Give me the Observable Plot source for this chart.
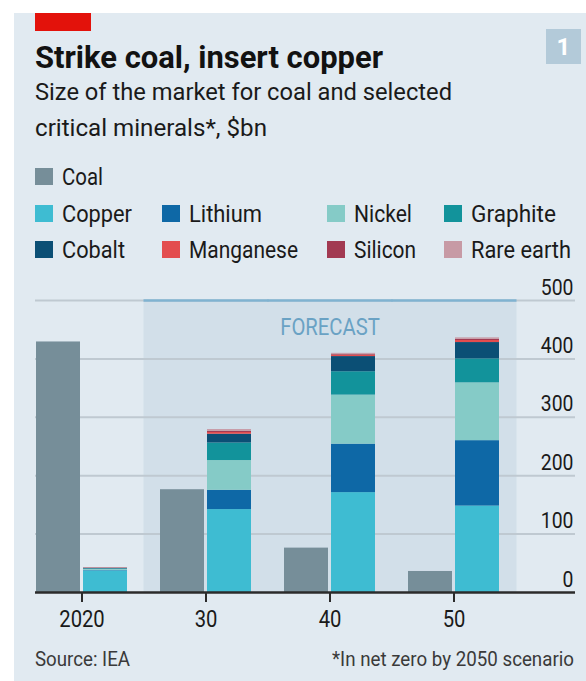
<!DOCTYPE html>
<html><head><meta charset="utf-8">
<script src="https://cdn.jsdelivr.net/npm/d3@7"></script>
<script src="https://cdn.jsdelivr.net/npm/@observablehq/plot@0.6"></script>
<style>
html,body{margin:0;padding:0;background:#fff;}
#root{position:relative;width:586px;height:681px;overflow:hidden;font-family:Roboto,"Open Sans",sans-serif;color:#121212;}
#panel{position:absolute;left:14px;top:13px;width:572px;height:668px;background:#e1eaf1;}
.abs{position:absolute;white-space:nowrap;line-height:1;transform-origin:0 0;}
#chart{position:absolute;left:13px;top:280px;}
</style></head><body>
<div id="root"><div id="panel"></div></div>
<script>
// ---- data ----
const years = ["2020", "2030", "2040", "2050"];
const xTickLabels = ["2020", "30", "40", "50"];
const coal = [429, 176, 76, 36];
const minerals = ["Copper", "Lithium", "Nickel", "Graphite", "Cobalt", "Manganese", "Silicon", "Rare earth"];
const copper    = [37, 142, 171, 148];
const lithium   = [1, 33, 83, 112];
const nickel    = [1.5, 51, 84, 99];
const graphite  = [1, 30, 40, 41];
const cobalt    = [1, 15, 26, 28];
const manganese = [0.5, 3, 2.5, 3.5];
const silicon   = [0.3, 2, 1.5, 2];
const rareEarth = [0.3, 3, 1.5, 2.5];
const forecastYears = ["2030", "2040", "2050"];
const yTicks = [0, 100, 200, 300, 400, 500];

// ---- styles ----
const coalColor = "#768e99";
const mineralColors = ["#3ebcd2", "#0e68a6", "#85cbc7", "#12939b", "#0b4f75", "#e34d4f", "#a23a52", "#c79aa5"];

const mineralValues = [copper, lithium, nickel, graphite, cobalt, manganese, silicon, rareEarth];
const mineralRows = years.flatMap((year, i) => minerals.map((m, j) => ({year, mineral: m, value: mineralValues[j][i]})));
const coalRows = years.map((year, i) => ({year, value: coal[i]}));

const root = document.getElementById("root");
function addText(txt, left, top, size, opts = {}) {
  const el = document.createElement("div");
  el.className = "abs";
  el.textContent = txt;
  el.style.left = left + "px";
  el.style.top = top + "px";
  el.style.fontSize = size + "px";
  if (opts.weight) el.style.fontWeight = opts.weight;
  if (opts.color) el.style.color = opts.color;
  root.appendChild(el);
  if (opts.w) {
    const nat = el.getBoundingClientRect().width;
    el.style.transform = `scaleX(${opts.w / nat})`;
  }
  return el;
}
function addBox(left, top, w, h, color) {
  const el = document.createElement("div");
  el.style.cssText = `position:absolute;left:${left}px;top:${top}px;width:${w}px;height:${h}px;background:${color};`;
  root.appendChild(el);
  return el;
}

// header
addBox(35, 13, 56, 18, "#e3120b");
addText("Strike coal, insert copper", 35, 41, 32, {weight: 700, w: 348});
addText("Size of the market for coal and selected", 35, 81, 23, {w: 417, color: "#1a1a1a"});
addText("critical minerals*, $bn", 35, 116.5, 23, {w: 232, color: "#1a1a1a"});
const badge = addBox(546, 29, 35, 35, "#b3cad9");
badge.style.cssText += "color:#fff;font-weight:700;font-size:24px;display:flex;align-items:center;justify-content:center;font-family:Roboto,sans-serif;";
badge.textContent = "1";

// legend
const legendCols = [35, 162, 327, 444];
const swatchTops = [168, 205, 241];
const textTops = [166, 202.6, 239];
const legendWidths = {Coal: 41, Copper: 70, Lithium: 73, Nickel: 58, Graphite: 85, Cobalt: 63, Manganese: 109, Silicon: 62, "Rare earth": 100};
const legendItems = [{name: "Coal", color: coalColor, row: 0, col: 0}]
  .concat(minerals.map((m, j) => ({name: m, color: mineralColors[j], row: 1 + Math.floor(j / 4), col: j % 4})));
for (const it of legendItems) {
  addBox(legendCols[it.col], swatchTops[it.row], 18, 17, it.color);
  addText(it.name, legendCols[it.col] + 27, textTops[it.row], 23, {w: legendWidths[it.name], color: "#1a1a1a"});
}

// footer
addText("Source: IEA", 35, 649, 20, {w: 95, color: "#3a3a3a"});
addText("*In net zero by 2050 scenario", 332, 649, 20, {w: 242, color: "#3a3a3a"});

// chart
const chart = Plot.plot({
  width: 573, height: 360,
  marginTop: 20, marginBottom: 48, marginLeft: 22, marginRight: 11,
  style: {fontFamily: "Roboto, sans-serif", fontSize: "22px", background: "transparent", color: "#1a1a1a", overflow: "visible"},
  x: {domain: years, paddingInner: 33 / 124, paddingOuter: 0, insetLeft: 1, insetRight: 76, label: null},
  y: {domain: [0, 500], label: null},
  color: {domain: minerals, range: mineralColors},
  marks: [
    Plot.barY(forecastYears, {x: d => d, y: () => 500, fill: "#d2dfe9", insetLeft: -16.5, insetRight: -17.5}),
    Plot.ruleY(yTicks.filter(d => d > 0), {stroke: "#bfc9d1", strokeWidth: 2}),
    Plot.tickY(forecastYears, {x: d => d, y: () => 500, stroke: "#80b3d1", strokeWidth: 2.5, insetLeft: -16.5, insetRight: -17.5}),
    Plot.text(["FORECAST"], {x: () => "2040", y: () => 500, text: d => d, dy: 27.5, fill: "#6aa2c4", fontSize: 23}),
    Plot.barY(coalRows, {x: "year", y: "value", fill: coalColor, insetRight: 47}),
    Plot.barY(mineralRows, Plot.stackY({x: "year", y: "value", fill: "mineral", order: minerals, insetLeft: 47})),
    Plot.ruleY([0], {stroke: "#2b2b2b", strokeWidth: 2.5}),
    Plot.axisX({tickSize: 10, tickPadding: 8, tickFormat: d => xTickLabels[years.indexOf(d)], stroke: "#2b2b2b", strokeWidth: 2, fontSize: 23, fill: "#1a1a1a", label: null}),
    Plot.axisY({anchor: "right", ticks: yTicks, tickSize: 0, tickPadding: 0, textAnchor: "end", dx: -2, dy: -13, fontSize: 22, fill: "#1a1a1a", label: null})
  ]
});
chart.id = "chart";
root.appendChild(chart);
// condense tick label glyphs horizontally (narrow house font)
chart.querySelectorAll('g[aria-label="y-axis tick label"] text, g[aria-label="x-axis tick label"] text, g[aria-label="text"] text').forEach(t => {
  const tr = t.getAttribute("transform") || "";
  t.setAttribute("transform", tr + " scale(0.88,1)");
});
</script>
</body></html>
